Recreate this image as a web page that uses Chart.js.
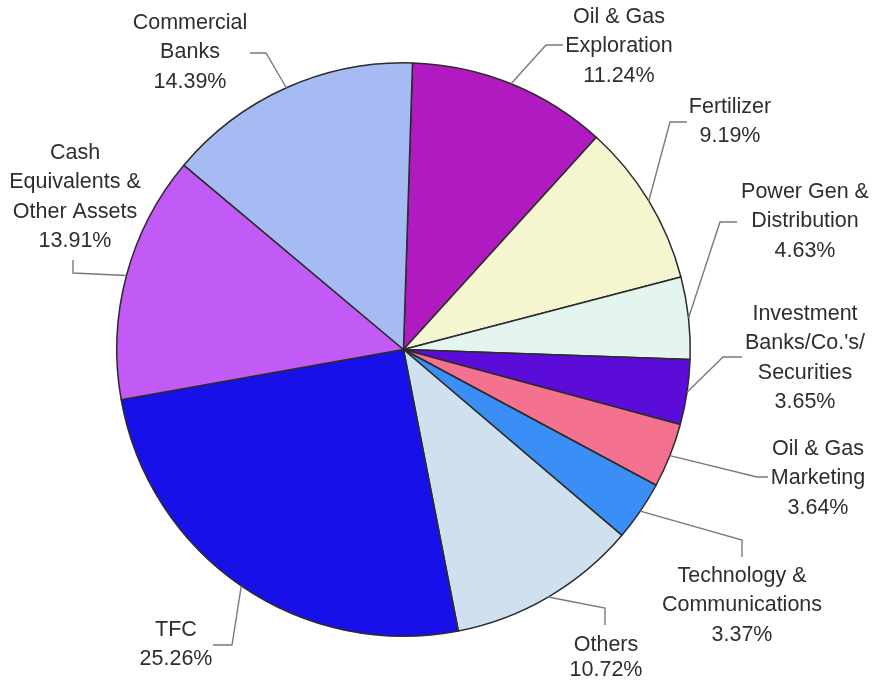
<!DOCTYPE html>
<html>
<head>
<meta charset="utf-8">
<script src="https://cdn.jsdelivr.net/npm/chart.js@4/dist/chart.umd.min.js"></script>
<style>
  html, body { margin: 0; padding: 0; background: #fff; }
  #wrap { width: 878px; height: 680px; }
</style>
</head>
<body>
<div id="wrap"><canvas id="pie"></canvas></div>
<script>
// --- data ------------------------------------------------------------------
const categories = [
  ['Oil & Gas', 'Exploration'],
  ['Fertilizer'],
  ['Power Gen &', 'Distribution'],
  ['Investment', "Banks/Co.'s/", 'Securities'],
  ['Oil & Gas', 'Marketing'],
  ['Technology &', 'Communications'],
  ['Others'],
  ['TFC'],
  ['Cash', 'Equivalents &', 'Other Assets'],
  ['Commercial', 'Banks']
];
const shares = [11.24, 9.19, 4.63, 3.65, 3.64, 3.37, 10.72, 25.26, 13.91, 14.39];
const sliceColors = [
  '#b01ac0', '#f5f5cf', '#e4f4ee', '#5c0cd8', '#f4728f',
  '#3a8ef5', '#cfe0ee', '#1810e8', '#c25af5', '#a6baf4'
];

// --- label layout (elbow point, end of leader, text centre, first line y) ---
const labelLayout = [
  { elbow: [546, 45],  end: [563, 45],  tx: 619, ty: 17 },
  { elbow: [670, 122], end: [687, 122], tx: 730, ty: 107 },
  { elbow: [720, 222], end: [737, 222], tx: 805, ty: 192 },
  { elbow: [723, 357], end: [742, 357], tx: 805, ty: 314 },
  { elbow: [757, 477], end: [768, 477], tx: 818, ty: 449 },
  { elbow: [742, 540], end: [742, 557], tx: 742, ty: 576 },
  { elbow: [605, 608], end: [605, 625], tx: 606, ty: 645, lh: 25.5 },
  { elbow: [232, 645], end: [213, 645], tx: 176, ty: 630 },
  { elbow: [73, 273],  end: [73, 260],  tx: 75,  ty: 153 },
  { elbow: [266, 53],  end: [250, 53],  tx: 190, ty: 23 }
];
const LINE_H = 29.5;

// leader lines + labels drawn after the pie
const etiquetas = {
  id: 'etiquetas',
  afterDatasetsDraw(chart) {
    const ctx = chart.ctx;
    const arcs = chart.getDatasetMeta(0).data;
    ctx.save();
    arcs.forEach((arc, i) => {
      const lay = labelLayout[i];
      const p = arc.getProps(['x', 'y', 'startAngle', 'endAngle', 'outerRadius'], true);
      const mid = (p.startAngle + p.endAngle) / 2;
      const ex = p.x + Math.cos(mid) * p.outerRadius;
      const ey = p.y + Math.sin(mid) * p.outerRadius;

      ctx.strokeStyle = '#7a7a7a';
      ctx.lineWidth = 1.4;
      ctx.beginPath();
      ctx.moveTo(ex, ey);
      ctx.lineTo(lay.elbow[0], lay.elbow[1]);
      ctx.lineTo(lay.end[0], lay.end[1]);
      ctx.stroke();

      const lines = categories[i].concat([shares[i].toFixed(2) + '%']);
      const lh = lay.lh || LINE_H;
      ctx.fillStyle = '#2e2e2e';
      ctx.font = '21.5px "Liberation Sans", Arial, sans-serif';
      ctx.textAlign = 'center';
      ctx.textBaseline = 'middle';
      lines.forEach((t, k) => ctx.fillText(t, lay.tx, lay.ty + k * lh));
    });
    ctx.restore();
  }
};

new Chart(document.getElementById('pie'), {
  type: 'pie',
  data: {
    labels: categories,
    datasets: [{
      data: shares,
      backgroundColor: sliceColors,
      borderColor: '#2b2b2b',
      borderWidth: 1.5
    }]
  },
  options: {
    responsive: true, maintainAspectRatio: false, animation: false,
    rotation: 1.8,
    layout: { padding: { left: 116, right: 187, top: 62, bottom: 43 } },
    plugins: { legend: { display: false }, tooltip: { enabled: false } }
  },
  plugins: [etiquetas]
});
</script>
</body>
</html>
